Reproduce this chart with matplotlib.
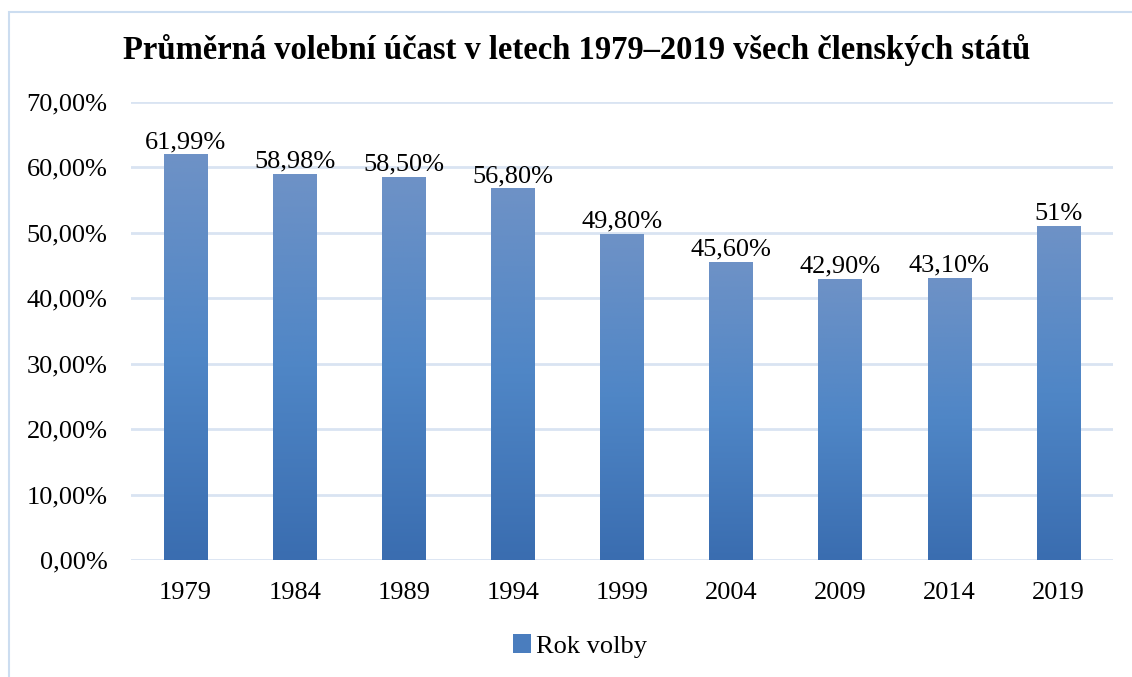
import matplotlib
matplotlib.use("Agg")
import matplotlib.pyplot as plt
import numpy as np
from matplotlib.colors import LinearSegmentedColormap
from matplotlib.patches import Rectangle, Patch

years = ["1979", "1984", "1989", "1994", "1999", "2004", "2009", "2014", "2019"]
values = [61.99, 58.98, 58.50, 56.80, 49.80, 45.60, 42.90, 43.10, 51.0]
labels = ["61,99%", "58,98%", "58,50%", "56,80%", "49,80%", "45,60%", "42,90%", "43,10%", "51%"]
yticks = [0, 10, 20, 30, 40, 50, 60, 70]
ytick_labels = ["0,00%", "10,00%", "20,00%", "30,00%", "40,00%", "50,00%", "60,00%", "70,00%"]
title = "Průměrná volební účast v letech 1979–2019 všech členských států"
legend_label = "Rok volby"

plt.rcParams['font.family'] = ['Liberation Serif', 'DejaVu Serif']

W, H = 1132, 677
fig = plt.figure(figsize=(W / 100, H / 100), dpi=100)
fig.patch.set_facecolor("white")

# outer border
fig.add_artist(Rectangle((9 / W, -0.01), 1.1, 1 - 12 / H + 0.01, transform=fig.transFigure,
                         fill=False, edgecolor="#CCDDF0", linewidth=1.5))

ax = fig.add_axes([131 / W, 1 - 560 / H, (1113 - 131) / W, (560 - 102) / H])
x = np.arange(len(years))
bw = 0.4
bars = ax.bar(x, values, width=bw, color="none", edgecolor="none", zorder=3)

cmap = LinearSegmentedColormap.from_list("g", ["#3A6DB0", "#4F86C6", "#6E92C6"])
grad = np.linspace(0, 1, 256).reshape(-1, 1)
for b in bars:
    x0, y0 = b.get_x(), b.get_y()
    w, h = b.get_width(), b.get_height()
    im = ax.imshow(grad, cmap=cmap, origin="lower", aspect="auto",
                   extent=(x0, x0 + w, y0, y0 + h), zorder=3)
    im.set_clip_path(b)

for xi, v, lab in zip(x, values, labels):
    ax.annotate(lab, (xi, v), xytext=(0, 1), textcoords="offset points",
                ha="center", va="bottom", fontsize=19, color="black")

ax.set_xlim(-0.5, len(years) - 0.5)
ax.set_ylim(0, 70)
ax.set_yticks(yticks)
ax.set_yticklabels(ytick_labels, fontsize=19)
ax.set_xticks(x)
ax.set_xticklabels(years, fontsize=19)
ax.tick_params(axis="x", length=0, pad=16)
ax.tick_params(axis="y", length=0, pad=17)
ax.yaxis.grid(True, color="#D9E4F2", linewidth=2, zorder=0)
ax.set_axisbelow(True)
for s in ax.spines.values():
    s.set_visible(False)

fig.text(577 / W, 1 - 50 / H, title, ha="center", va="center",
         fontsize=23.5, fontweight="bold")

handle = Patch(facecolor="#4A7DBE", edgecolor="none")
fig.legend([handle], [legend_label], loc="center", bbox_to_anchor=(580 / W, 1 - 646 / H),
           frameon=False, fontsize=19, handlelength=0.7, handleheight=0.7,
           handletextpad=0.2)

fig.savefig("out.png", dpi=100, facecolor="white")
